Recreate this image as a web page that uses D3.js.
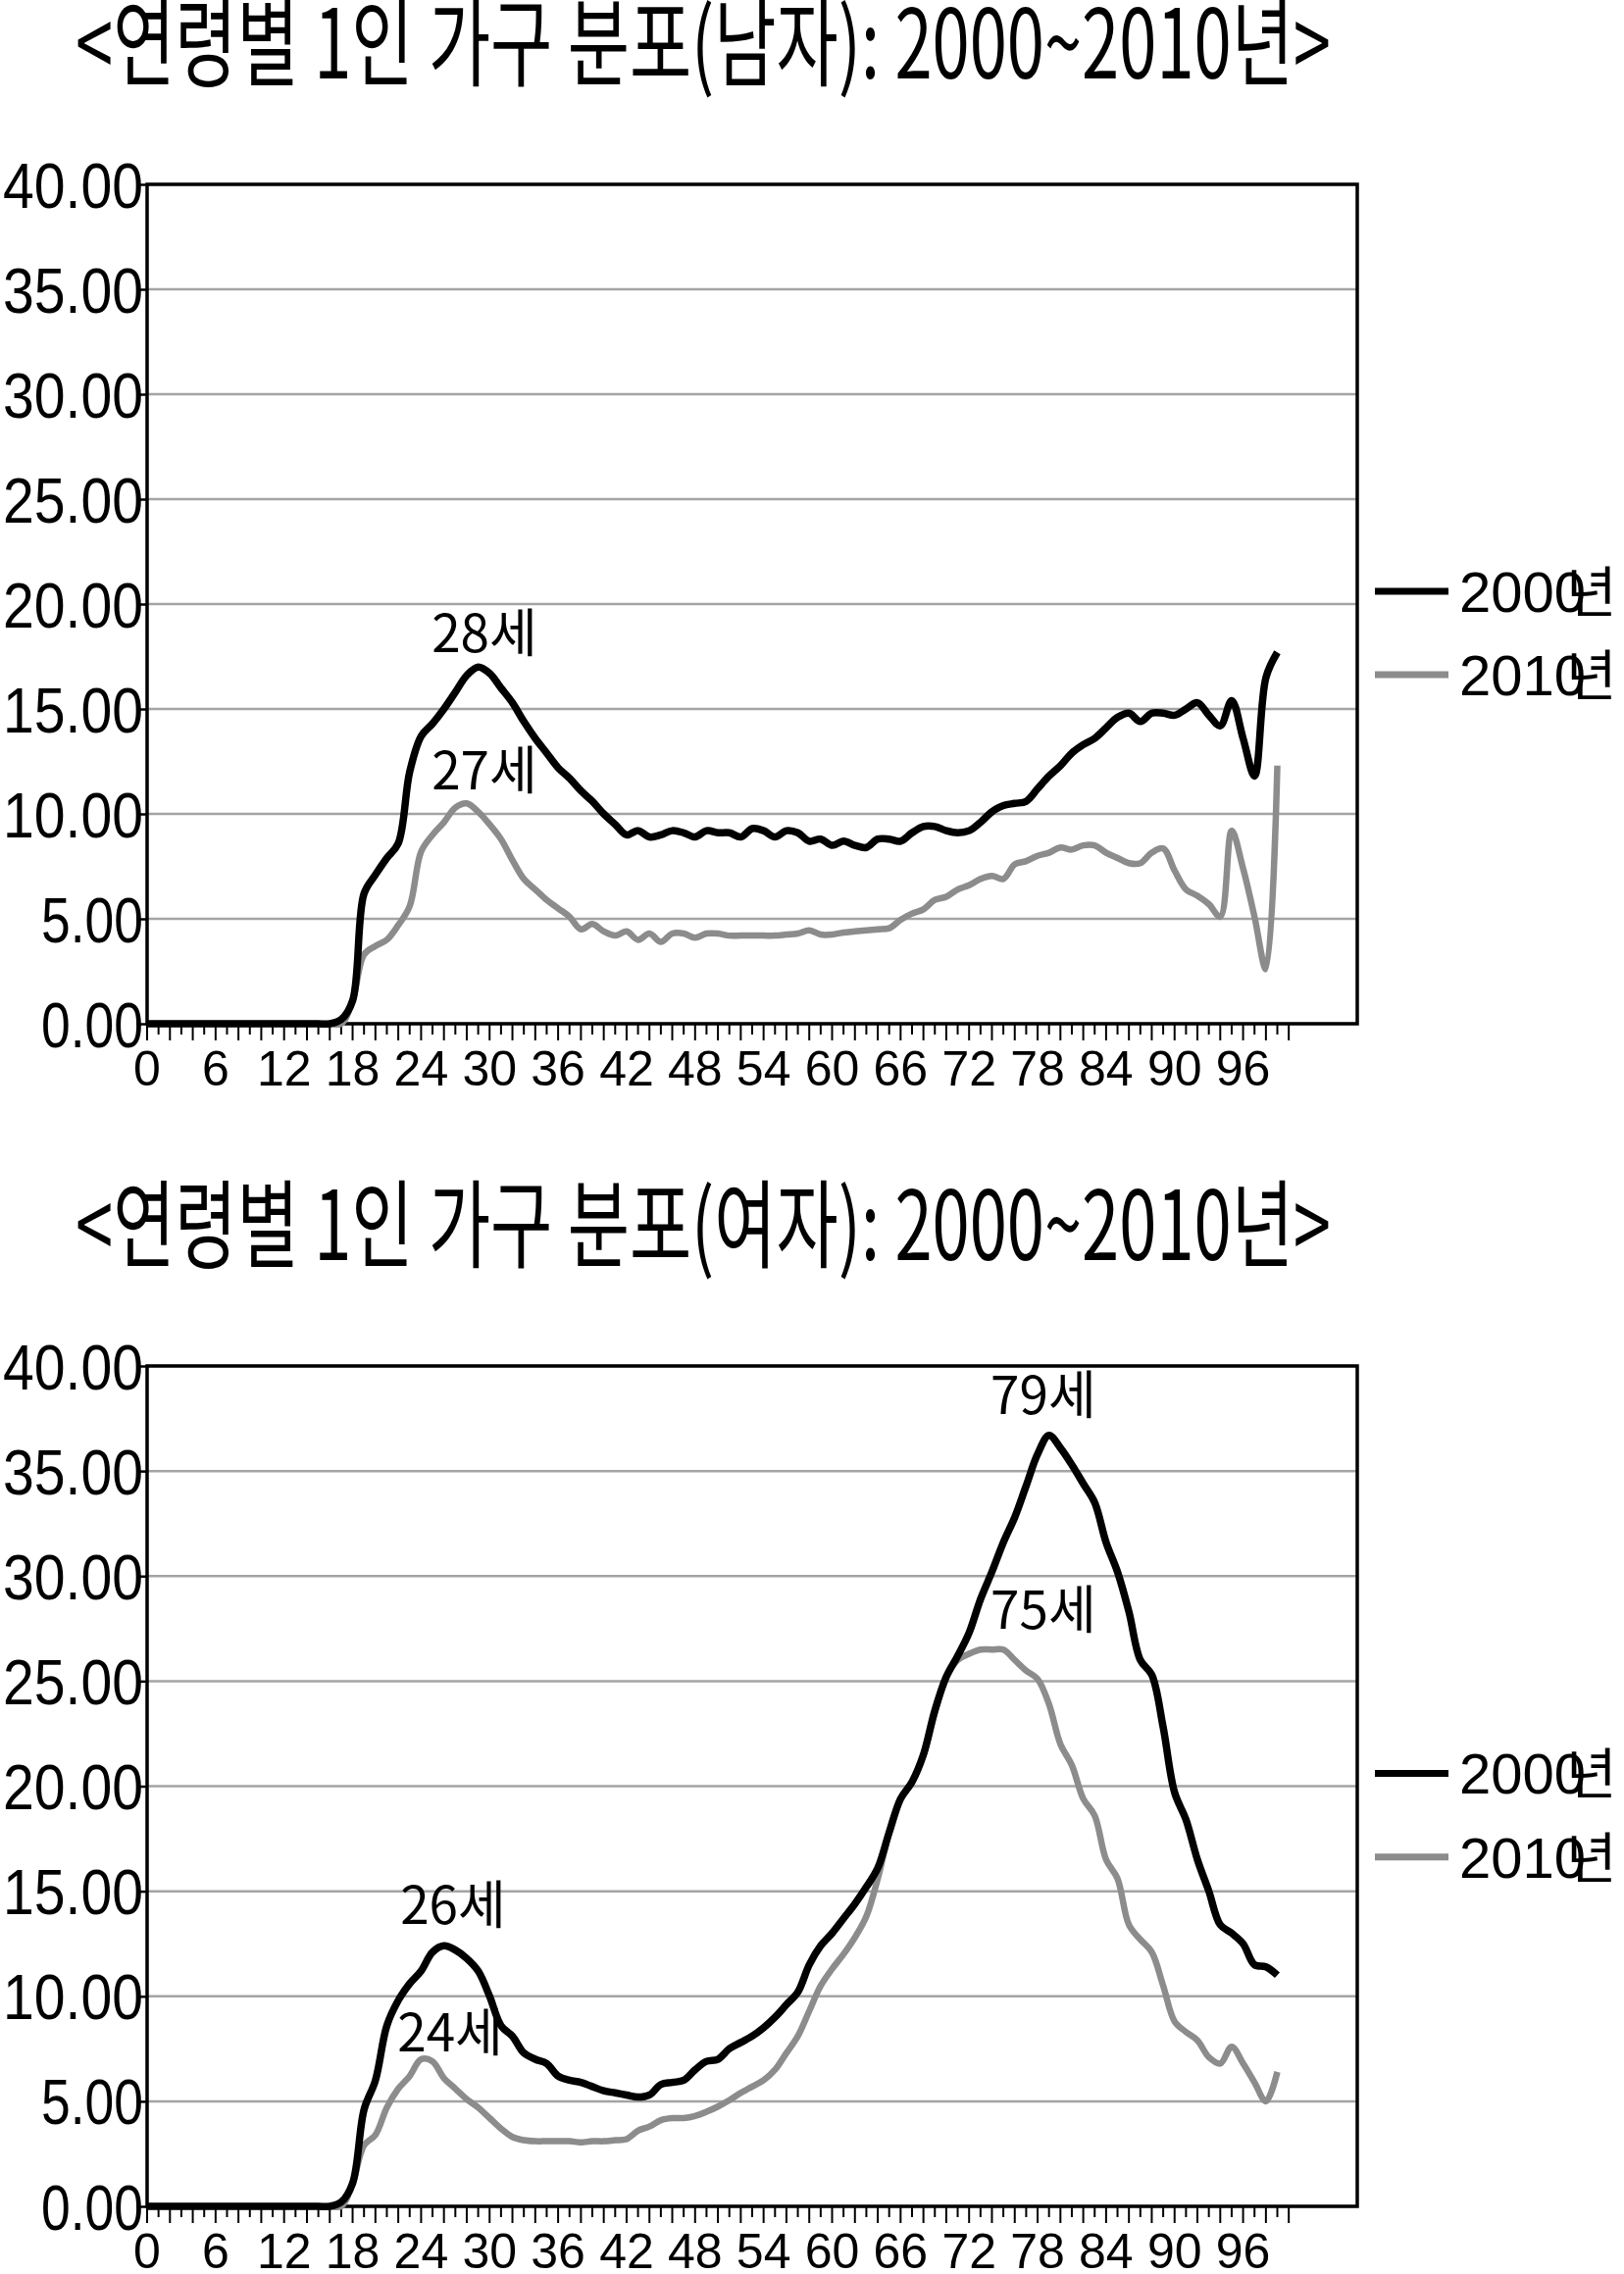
<!DOCTYPE html>
<html><head><meta charset="utf-8">
<script src="https://cdn.jsdelivr.net/npm/d3@7/dist/d3.min.js"></script>
<style>body{margin:0;background:#fff;overflow:hidden}</style>
</head><body>
<svg id="c" width="1656" height="2319" xmlns="http://www.w3.org/2000/svg"></svg>
<script>
// ---- data ----
const titles = ["<연령별 1인 가구 분포(남자): 2000~2010년>", "<연령별 1인 가구 분포(여자): 2000~2010년>"];
const seriesNames = ["2000년", "2010년"];
const yTicks = [0, 5, 10, 15, 20, 25, 30, 35, 40];
const yTickLabels = ["0.00", "5.00", "10.00", "15.00", "20.00", "25.00", "30.00", "35.00", "40.00"];
const xTickLabels = ["0", "6", "12", "18", "24", "30", "36", "42", "48", "54", "60", "66", "72", "78", "84", "90", "96"];
const ages = [0,1,2,3,4,5,6,7,8,9,10,11,12,13,14,15,16,17,18,19,20,21,22,23,24,25,26,27,28,29,30,31,32,33,34,35,36,37,38,39,40,41,42,43,44,45,46,47,48,49,50,51,52,53,54,55,56,57,58,59,60,61,62,63,64,65,66,67,68,69,70,71,72,73,74,75,76,77,78,79,80,81,82,83,84,85,86,87,88,89,90,91,92,93,94,95,96,97,98,99];

const male2000 = [0,0,0,0,0,0,0,0,0,0,0,0,0,0,0,0,0,0.2,1.1,6.2,7.1,7.9,8.6,12.0,13.7,14.3,15.0,15.8,16.6,17.0,
  16.7,16.0,15.3,14.4,13.6,12.9,12.2,11.7,11.1,10.6,10.0,9.5,9.0,9.2,8.9,9.0,9.2,9.1,8.9,9.2,
  9.1,9.1,8.9,9.3,9.2,8.9,9.2,9.1,8.7,8.8,8.5,8.7,8.5,8.4,8.8,8.8,8.7,9.1,9.4,9.4,
  9.2,9.1,9.2,9.6,10.1,10.4,10.5,10.6,11.2,11.8,12.3,12.9,13.3,13.6,14.1,14.6,14.8,14.4,14.8,14.8,
  14.7,15.0,15.3,14.7,14.2,15.4,13.6,11.8,16.5,17.7];
const male2010 = [0,0,0,0,0,0,0,0,0,0,0,0,0,0,0,0,0,0,1.1,3.3,3.7,4.0,4.7,5.6,8.2,9.0,9.6,10.3,10.5,10.1,
  9.5,8.8,7.8,6.9,6.4,5.9,5.5,5.1,4.5,4.75,4.4,4.2,4.4,4.0,4.3,3.9,4.3,4.3,4.1,4.3,
  4.3,4.2,4.2,4.2,4.2,4.2,4.25,4.3,4.45,4.25,4.25,4.35,4.4,4.45,4.5,4.55,4.95,5.25,5.45,5.9,
  6.05,6.4,6.6,6.9,7.05,6.9,7.6,7.75,8.0,8.15,8.4,8.3,8.5,8.5,8.15,7.9,7.65,7.65,8.15,8.35,
  7.3,6.4,6.1,5.7,5.1,9.2,7.4,5.1,2.6,12.3];
const female2000 = [0,0,0,0,0,0,0,0,0,0,0,0,0,0,0,0,0,0.2,1.1,4.6,6.0,8.6,9.8,10.6,11.2,12.1,12.4,12.2,11.8,11.2,
  10.0,8.6,8.1,7.3,7.0,6.8,6.2,6.0,5.9,5.7,5.5,5.4,5.3,5.2,5.3,5.8,5.9,6.0,6.5,6.9,
  7.0,7.5,7.8,8.1,8.5,9.0,9.6,10.2,11.5,12.4,13.0,13.7,14.4,15.2,16.1,17.8,19.4,20.2,21.5,23.6,
  25.2,26.2,27.3,28.9,30.2,31.6,32.8,34.3,35.8,36.7,36.1,35.3,34.4,33.5,31.6,30.2,28.3,26.0,25.3,22.8,
  19.7,18.4,16.5,15.0,13.4,13.0,12.5,11.5,11.4,11.0];
const female2010 = [0,0,0,0,0,0,0,0,0,0,0,0,0,0,0,0,0,0,1.1,2.9,3.4,4.7,5.6,6.2,7.0,6.9,6.1,5.6,5.1,4.7,
  4.2,3.7,3.3,3.15,3.1,3.1,3.1,3.1,3.05,3.1,3.1,3.15,3.2,3.6,3.8,4.1,4.2,4.2,4.3,4.5,
  4.75,5.05,5.4,5.7,6.0,6.5,7.3,8.1,9.3,10.5,11.3,12.0,12.8,13.8,15.6,17.8,19.4,20.2,21.5,23.5,
  25.2,26.0,26.3,26.5,26.5,26.5,26.0,25.5,25.1,23.9,22.0,21.0,19.4,18.6,16.5,15.6,13.4,12.7,12.1,10.5,
  8.8,8.3,7.9,7.1,6.8,7.6,6.8,5.9,5.0,6.4];

const maleLabels = [{text: "28세", age: 29.55, value: 17.7}, {text: "27세", age: 29.55, value: 11.17}];
const femaleLabels = [{text: "26세", age: 26.8, value: 13.44}, {text: "24세", age: 26.55, value: 7.37},
                      {text: "79세", age: 78.5, value: 37.71}, {text: "75세", age: 78.5, value: 27.49}];

// ---- drawing ----
const svg = d3.select("#c");
const colors = ["#000000", "#8c8c8c"];
const widths = [7.5, 6.5];
const CJK = "'Noto Sans CJK KR', sans-serif";
const LAT = "'Liberation Sans', Arial, sans-serif";

const charts = [
  {title: titles[0], s2000: male2000, s2010: male2010, labels: maleLabels, top: 188, bottom: 1044, titleY: 80},
  {title: titles[1], s2000: female2000, s2010: female2010, labels: femaleLabels, top: 1393, bottom: 2250, titleY: 1285}
];

const x = d3.scaleLinear().domain([0, 106]).range([150, 1384]);

charts.forEach(ch => {
  const g = svg.append("g");
  const y = d3.scaleLinear().domain([0, 40]).range([ch.bottom, ch.top]);

  g.append("text").attr("x", 77).attr("y", ch.titleY)
    .attr("font-family", CJK).attr("font-size", 98)
    .attr("textLength", 1280).attr("lengthAdjust", "spacingAndGlyphs")
    .attr("fill", "#000").text(ch.title);

  // gridlines
  g.selectAll(".grid").data(yTicks).join("line")
    .attr("x1", x(0)).attr("x2", x(106))
    .attr("y1", d => y(d)).attr("y2", d => y(d))
    .attr("stroke", "#a4a4a4").attr("stroke-width", 2.5);

  // y axis
  const yAxis = d3.axisLeft(y).tickValues(yTicks).tickSize(11)
    .tickFormat((d, i) => yTickLabels[i]);
  const ya = g.append("g").attr("transform", `translate(${x(0)},0)`).call(yAxis);
  ya.select(".domain").remove();
  ya.selectAll(".tick line").attr("stroke", "#000").attr("stroke-width", 2.5);
  ya.selectAll(".tick text").attr("x", -4).attr("dy", "0.36em")
    .attr("font-family", LAT).attr("font-size", 64).attr("fill", "#000")
    .attr("textLength", (d, i) => yTickLabels[i].length === 5 ? 143 : 104)
    .attr("lengthAdjust", "spacingAndGlyphs");

  // x axis: minor ticks every year
  const tickAges = ages.concat([100]);
  const xa = g.append("g").attr("transform", `translate(0,${ch.bottom})`);
  xa.selectAll("line").data(tickAges).join("line")
    .attr("x1", d => x(d)).attr("x2", d => x(d))
    .attr("y1", 0).attr("y2", d => (d % 2 === 0 ? 17 : 11))
    .attr("stroke", "#000").attr("stroke-width", 2);
  xa.selectAll("text").data(xTickLabels).join("text")
    .attr("x", d => x(+d)).attr("y", 63)
    .attr("text-anchor", "middle")
    .attr("font-family", LAT).attr("font-size", 50).attr("fill", "#000")
    .text(d => d);

  // frame
  g.append("rect").attr("x", x(0)).attr("y", y(40))
    .attr("width", x(106) - x(0)).attr("height", y(0) - y(40))
    .attr("fill", "none").attr("stroke", "#000").attr("stroke-width", 3.5);

  // series
  const line = d3.line().x((d, i) => x(ages[i])).y(d => y(d)).curve(d3.curveCatmullRom.alpha(0.5));
  [ch.s2010, ch.s2000].forEach((s, k) => {
    const idx = k === 0 ? 1 : 0;
    g.append("path").datum(s).attr("d", line)
      .attr("fill", "none").attr("stroke", colors[idx]).attr("stroke-width", widths[idx])
      .attr("stroke-linejoin", "round");
  });

  // peak labels
  g.selectAll(".pl").data(ch.labels).join("text")
    .attr("x", d => x(d.age)).attr("y", d => y(d.value))
    .attr("text-anchor", "middle")
    .attr("font-family", CJK).attr("font-size", 53).attr("fill", "#000")
    .text(d => d.text);

  // legend
  const legY = [y(20) - 13, y(15) - 35];
  seriesNames.forEach((name, i) => {
    g.append("line").attr("x1", 1402).attr("x2", 1477)
      .attr("y1", legY[i]).attr("y2", legY[i])
      .attr("stroke", colors[i]).attr("stroke-width", 7);
    const t = g.append("text").attr("x", 1488).attr("y", legY[i]).attr("dy", "0.36em")
      .attr("font-family", LAT).attr("font-size", 58).attr("fill", "#000");
    t.append("tspan").text(name.slice(0, 4));
    t.append("tspan").attr("dx", -20).attr("font-family", CJK).attr("font-size", 56).text(name.slice(4));
  });
});
</script>
</body></html>
